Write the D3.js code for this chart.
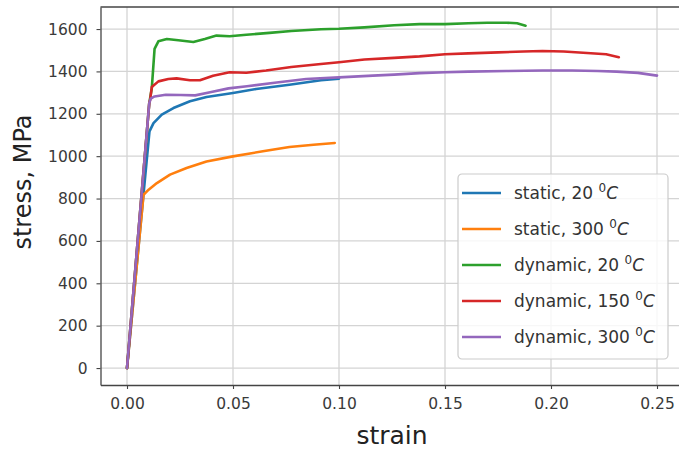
<!DOCTYPE html>
<html>
<head>
<meta charset="utf-8">
<script src="https://cdn.jsdelivr.net/npm/d3@7"></script>
<style>
  body { margin: 0; background: #fff; }
  text { font-family: "DejaVu Sans", sans-serif; }
</style>
</head>
<body>
<div id="chart"></div>
<script>
// strain / stress (MPa) pairs
const static20 = [[0, 0], [0.0106, 1117], [0.0125, 1156], [0.0164, 1196], [0.0219, 1227], [0.0297, 1259],
  [0.0375, 1279], [0.050, 1298], [0.0609, 1317], [0.0766, 1337], [0.0915, 1358], [0.100, 1366]];
const static300 = [[0, 0], [0.0078, 818], [0.0102, 842], [0.0141, 873], [0.0203, 913], [0.0281, 944],
  [0.0375, 975], [0.050, 999], [0.0641, 1023], [0.0766, 1043], [0.088, 1054], [0.098, 1062]];
const dynamic20 = [[0, 0], [0.0105, 1250], [0.0117, 1321], [0.0130, 1506], [0.0148, 1542], [0.0188, 1553],
  [0.0242, 1547], [0.0313, 1539], [0.0367, 1553], [0.0422, 1569], [0.0484, 1566], [0.0563, 1573],
  [0.0672, 1582], [0.0775, 1591], [0.0915, 1599], [0.100, 1601], [0.112, 1608], [0.126, 1618],
  [0.138, 1623], [0.150, 1623], [0.161, 1627], [0.170, 1630], [0.179, 1630], [0.184, 1627], [0.188, 1616]];
const dynamic150 = [[0, 0], [0.0105, 1250], [0.0109, 1266], [0.0117, 1326], [0.0148, 1353], [0.0195, 1364],
  [0.0234, 1367], [0.0297, 1358], [0.0344, 1358], [0.0406, 1380], [0.0484, 1396], [0.0563, 1394],
  [0.0656, 1404], [0.0775, 1421], [0.0915, 1435], [0.100, 1443], [0.112, 1456], [0.126, 1464],
  [0.138, 1471], [0.150, 1481], [0.161, 1485], [0.175, 1490], [0.187, 1494], [0.196, 1496],
  [0.206, 1494], [0.217, 1487], [0.226, 1481], [0.232, 1467]];
const dynamic300 = [[0, 0], [0.0105, 1250], [0.0112, 1272], [0.0130, 1282], [0.0183, 1290], [0.0253, 1289],
  [0.0322, 1287], [0.0392, 1302], [0.0479, 1320], [0.0566, 1330], [0.0706, 1348], [0.0845, 1364],
  [0.100, 1372], [0.116, 1380], [0.126, 1385], [0.138, 1392], [0.150, 1396], [0.161, 1399],
  [0.179, 1402], [0.196, 1404], [0.210, 1404], [0.222, 1402], [0.231, 1399], [0.241, 1393], [0.250, 1380]];

const seriesNames = ["static, 20 ", "static, 300 ", "dynamic, 20 ", "dynamic, 150 ", "dynamic, 300 "];
const seriesData = [static20, static300, dynamic20, dynamic150, dynamic300];
const seriesColors = ["#1f77b4", "#ff7f0e", "#2ca02c", "#d62728", "#9467bd"];
const xTicks = [0, 0.05, 0.10, 0.15, 0.20, 0.25];
const yTicks = [0, 200, 400, 600, 800, 1000, 1200, 1400, 1600];

const W = 679, H = 452;
const plot = { left: 100.5, right: 683.5, top: 7, bottom: 385 };

const svg = d3.select("#chart").append("svg")
  .attr("width", W).attr("height", H);

const x = d3.scaleLinear().domain([-0.0125, 0.2625]).range([plot.left, plot.right]);
const y = d3.scaleLinear().domain([-80, 1704]).range([plot.bottom, plot.top]);

// grid
svg.append("g").selectAll("line").data(xTicks).join("line")
  .attr("x1", d => x(d)).attr("x2", d => x(d))
  .attr("y1", plot.top).attr("y2", plot.bottom)
  .attr("stroke", "#d4d4d4").attr("stroke-width", 1.3);
svg.append("g").selectAll("line").data(yTicks).join("line")
  .attr("y1", d => y(d)).attr("y2", d => y(d))
  .attr("x1", plot.left).attr("x2", plot.right)
  .attr("stroke", "#d4d4d4").attr("stroke-width", 1.3);

// curves
const line = d3.line().x(d => x(d[0])).y(d => y(d[1]));
seriesData.forEach((s, i) => {
  svg.append("path")
    .datum(s)
    .attr("fill", "none")
    .attr("stroke", seriesColors[i])
    .attr("stroke-width", 2.6)
    .attr("stroke-linejoin", "round")
    .attr("stroke-linecap", "round")
    .attr("d", line);
});

// axes
const xAxis = svg.append("g")
  .attr("transform", `translate(0,${plot.bottom})`)
  .call(d3.axisBottom(x).tickValues(xTicks).tickFormat(d3.format(".2f")).tickSize(4).tickPadding(9).tickSizeOuter(0));
const yAxis = svg.append("g")
  .attr("transform", `translate(${plot.left},0)`)
  .call(d3.axisLeft(y).tickValues(yTicks).tickFormat(d3.format("d")).tickSize(4).tickPadding(9).tickSizeOuter(0));
[xAxis, yAxis].forEach(a => {
  a.selectAll("text").attr("font-size", 15.5).attr("fill", "#3a3a3a").attr("font-family", "DejaVu Sans");
  a.selectAll(".tick line").attr("stroke", "#444").attr("stroke-width", 1.1);
  a.select(".domain").attr("stroke", "#444").attr("stroke-width", 1.3);
});
// top spine
svg.append("line")
  .attr("x1", plot.left).attr("x2", plot.right)
  .attr("y1", plot.top).attr("y2", plot.top)
  .attr("stroke", "#444").attr("stroke-width", 1.3);

// axis labels
svg.append("text")
  .attr("x", (plot.left + plot.right) / 2).attr("y", 444)
  .attr("text-anchor", "middle").attr("font-size", 25).attr("fill", "#222")
  .text("strain");
svg.append("text")
  .attr("transform", "translate(31,182) rotate(-90)")
  .attr("text-anchor", "middle").attr("font-size", 24).attr("fill", "#222")
  .text("stress, MPa");

// legend
const lg = svg.append("g").attr("transform", "translate(458,174)");
lg.append("rect")
  .attr("width", 210).attr("height", 185).attr("rx", 4)
  .attr("fill", "#fff").attr("fill-opacity", 0.8)
  .attr("stroke", "#ccc").attr("stroke-width", 1.2);
seriesNames.forEach((name, i) => {
  const cy = 19 + i * 36;
  lg.append("line")
    .attr("x1", 4).attr("x2", 43).attr("y1", cy).attr("y2", cy)
    .attr("stroke", seriesColors[i]).attr("stroke-width", 2.6);
  const t = lg.append("text")
    .attr("x", 56).attr("y", cy + 6)
    .attr("font-size", 17).attr("fill", "#333");
  t.append("tspan").text(name);
  t.append("tspan").attr("dy", -7).attr("font-size", 12).text("0");
  t.append("tspan").attr("dy", 7).attr("font-style", "italic").text("C");
});
</script>
</body>
</html>
